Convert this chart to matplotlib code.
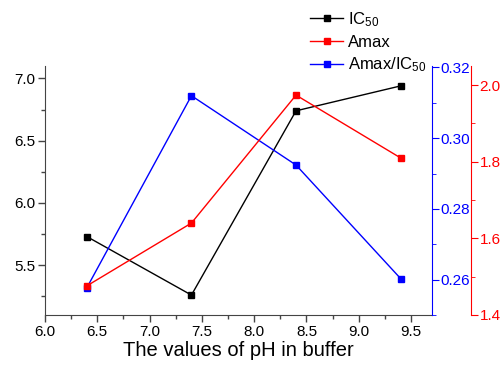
import matplotlib
matplotlib.use("Agg")
import matplotlib.pyplot as plt
from matplotlib.ticker import MultipleLocator, AutoMinorLocator

plt.rcParams['font.family'] = ['Liberation Sans', 'DejaVu Sans']
plt.rcParams['mathtext.fontset'] = 'custom'
plt.rcParams['mathtext.rm'] = 'Liberation Sans'
plt.rcParams['mathtext.it'] = 'Liberation Sans'

ph = [6.4, 7.4, 8.4, 9.4]
ic50 = [5.73, 5.26, 6.74, 6.94]
amax = [1.476, 1.64, 1.974, 1.81]
ratio = [0.2577, 0.312, 0.2924, 0.2603]

fig = plt.figure(figsize=(5.03, 3.65), dpi=100)
ax = fig.add_axes([45/503, 1-315/365, (432-45)/503, (315-66)/365])
ax_b = ax.twinx()
ax_r = ax.twinx()

l1, = ax.plot(ph, ic50, color='black', lw=1, marker='s', ms=5, label=r'IC$_{\mathrm{50}}$')
l2, = ax_r.plot(ph, amax, color='red', lw=1, marker='s', ms=5, label='Amax')
l3, = ax_b.plot(ph, ratio, color='blue', lw=1, marker='s', ms=5, label=r'Amax/IC$_{\mathrm{50}}$')

ax.set_xlim(6.0, 9.70)
ax.set_ylim(5.1, 7.1)
ax_b.set_ylim(0.25, 0.3204)
ax_r.set_ylim(1.4, 2.05)

gray = '#444444'
for a in (ax, ax_b, ax_r):
    a.spines['top'].set_visible(False)
ax.spines['right'].set_visible(False)
ax.spines['left'].set_color(gray)
ax.spines['bottom'].set_color(gray)
ax_b.spines['left'].set_visible(False)
ax_b.spines['bottom'].set_visible(False)
ax_r.spines['left'].set_visible(False)
ax_r.spines['bottom'].set_visible(False)
ax_b.spines['right'].set_color('blue')
ax_r.spines['right'].set_color('red')
ax_r.spines['right'].set_position(('axes', 1.101))

ax.xaxis.set_major_locator(MultipleLocator(0.5))
ax.xaxis.set_minor_locator(AutoMinorLocator(2))
ax.yaxis.set_major_locator(MultipleLocator(0.5))
ax.yaxis.set_minor_locator(AutoMinorLocator(2))
ax.xaxis.set_major_formatter(matplotlib.ticker.FormatStrFormatter('%.1f'))
ax.yaxis.set_major_formatter(matplotlib.ticker.FormatStrFormatter('%.1f'))
ax_b.yaxis.set_major_locator(MultipleLocator(0.02))
ax_b.yaxis.set_minor_locator(AutoMinorLocator(2))
ax_b.yaxis.set_major_formatter(matplotlib.ticker.FormatStrFormatter('%.2f'))
ax_r.yaxis.set_major_locator(MultipleLocator(0.2))
ax_r.yaxis.set_minor_locator(AutoMinorLocator(2))
ax_r.yaxis.set_major_formatter(matplotlib.ticker.FormatStrFormatter('%.1f'))

ax.tick_params(axis='both', which='major', direction='out', length=5, width=1, color=gray, labelsize=11, pad=2)
ax.tick_params(axis='both', which='minor', direction='out', length=3, width=1, color=gray)
ax_b.tick_params(axis='y', which='major', direction='out', length=5, color='blue', labelcolor='blue', labelsize=11, pad=1)
ax_b.tick_params(axis='y', which='minor', direction='out', length=3, color='blue')
ax_r.tick_params(axis='y', which='major', direction='out', length=5, color='red', labelcolor='red', labelsize=11, pad=1)
ax_r.tick_params(axis='y', which='minor', direction='out', length=3, color='red')

ax.set_xlabel('The values of pH in buffer', fontsize=14.5, labelpad=2)

leg = fig.legend(handles=[l1, l2, l3], loc='upper left', bbox_to_anchor=(300/503, 1.0),
                 frameon=False, fontsize=12, handlelength=2.0, labelspacing=0.35,
                 handletextpad=0.3, borderaxespad=0.2)

fig.savefig('out.png', dpi=100)
